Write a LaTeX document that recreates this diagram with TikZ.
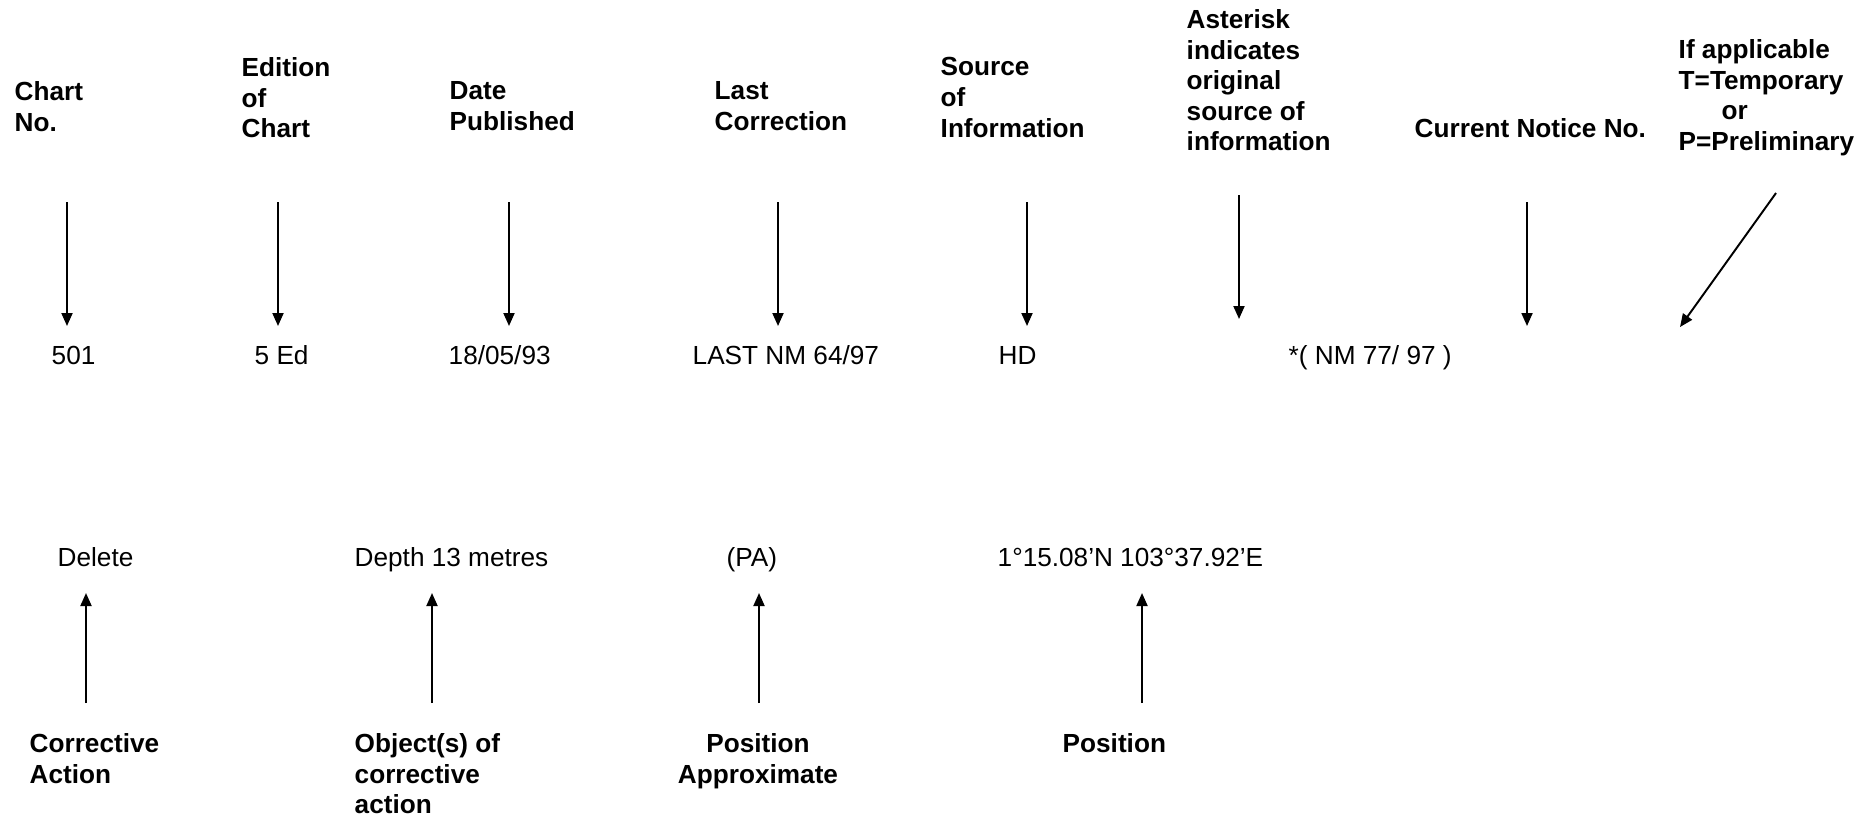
\documentclass[tikz,border=0pt]{standalone}
\usepackage{fontspec}
\setmainfont{Liberation Sans}
\usetikzlibrary{arrows.meta}
\tikzset{
  head/.style={font=\bfseries\fontsize{7.45pt}{8.7pt}\selectfont,inner sep=0pt,align=left,anchor=north west},
  entry/.style={font=\fontsize{7.45pt}{8.7pt}\selectfont,inner sep=0pt,anchor=base west},
  pointer/.style={line width=0.55pt,-{Triangle[length=1.3mm,width=1.1mm]}}
}
\begin{document}
\begin{tikzpicture}[x=0.1mm,y=-0.1mm]
  \useasboundingbox (0,0) rectangle (1867,818);
  % upper row: heading, arrow down, chart entry
  \foreach \hx/\hy/\h/\ax/\ay/\ex/\e [count=\i] in {
      14/81/{Chart\\No.}/67/202/51/501,
      241/57/{Edition\\of\\Chart}/278/202/254/{5 Ed},
      449/81/{Date\\Published}/509/202/448/{18/05/93},
      714/81/{Last\\Correction}/778/202/692/{LAST NM 64/97},
      940/57/{Source\\of\\Information}/1027/202/998/HD,
      1186/9/{Asterisk\\indicates\\original\\source of\\information}/1239/195/1288/{*( NM 77/ 97 )}}
  {
    \node[head] (h\i) at (\hx,\hy) {\h};
    \node[entry] (e\i) at (\ex,364) {\e};
    \coordinate (s\i) at (\ax,\ay);
    \coordinate (t\i) at (\ax,\ay+124);
    \draw[pointer] (s\i) -- (t\i);
  }
  \node[head] (notice) at (1414,118) {Current Notice No.};
  \coordinate (ns) at (1527,202);
  \coordinate (nt) at (1527,326);
  \draw[pointer] (ns) -- (nt);
  \node[head] (status) at (1678,39) {If applicable\\T=Temporary\\\hspace*{4.3mm}or\\P=Preliminary};
  \coordinate (ss) at (1776,193);
  \coordinate (st) at (1680,327);
  \draw[pointer] (ss) -- (st);
  % lower row: correction entry, arrow up, heading
  \foreach \ex/\e/\ax/\hx/\an/\al/\h [count=\i] in {
      57/Delete/86/29/north west/left/{Corrective\\Action},
      354/{Depth 13 metres}/432/354/north west/left/{Object(s) of\\corrective\\action},
      726/{(PA)}/759/758/north/center/{Position\\Approximate},
      997/{1°15.08’N 103°37.92’E}/1142/1062/north west/left/Position}
  {
    \node[entry] (v\i) at (\ex,566) {\e};
    \coordinate (u\i) at (\ax,703);
    \coordinate (w\i) at (\ax,593);
    \draw[pointer] (u\i) -- (w\i);
    \node[head,anchor=\an,align=\al] (k\i) at (\hx,733) {\h};
  }
\end{tikzpicture}
\end{document}
